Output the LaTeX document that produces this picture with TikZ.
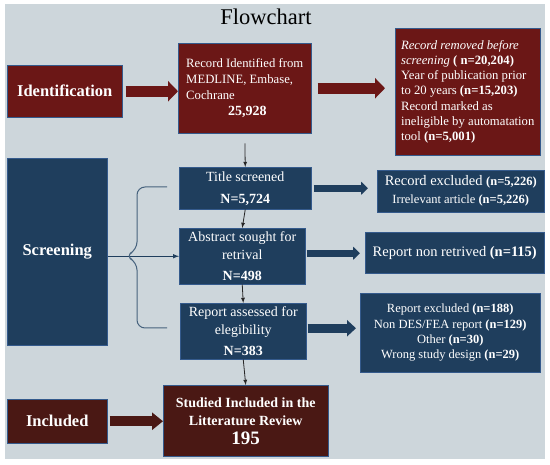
\documentclass[tikz,border=0pt]{standalone}
\usepackage{fontspec}
\setmainfont{Liberation Serif}
\usetikzlibrary{arrows,arrows.meta}

\definecolor{panel}{RGB}{205,214,219}
\definecolor{maroon}{RGB}{107,23,22}
\definecolor{darkbrown}{RGB}{74,24,20}
\definecolor{navy}{RGB}{31,62,93}
\definecolor{edge}{RGB}{52,90,140}
\definecolor{bracecol}{RGB}{70,98,125}

\newcommand{\fs}[2]{\fontsize{#1}{#2}\selectfont}

\begin{document}
\begin{tikzpicture}[>=latex, x=1pt, y=-1pt,
  box/.style={draw=edge, line width=0.5pt, anchor=north west, inner sep=0pt, text=white, align=center},
  wh/.style 2 args={minimum width=#1, minimum height=#2},
  redbox/.style={box, fill=maroon},
  darkbox/.style={box, fill=darkbrown},
  bluebox/.style={box, fill=navy},
  redarrow/.style={maroon, line width=11pt, -{Triangle[length=10pt,width=20pt]}},
  brownarrow/.style={darkbrown, line width=10pt, -{Triangle[length=11pt,width=17pt]}},
  bluearrow/.style={navy, line width=7pt, -{Triangle[length=7pt,width=13pt]}},
  thinarrow/.style={->, line width=0.8pt, black!85}]

\useasboundingbox (0,0) rectangle (550,465);
\fill[panel] (5,4) rectangle (545,459);

\node[font=\fs{22.5}{26}] (title) at (266,17) {Flowchart};

% left column
\node[redbox, wh={115pt}{52pt}, font=\fs{16.5}{19}\bfseries] (ident) at (7,65) {Identification};
\node[bluebox, wh={100pt}{187pt}, font=\fs{16.5}{19}\bfseries] (scr) at (7,158) {Screening};
\node[darkbox, wh={100pt}{44pt}, font=\fs{16.5}{19}\bfseries] (inc) at (7,399) {Included};

% middle column
\node[redbox, wh={133pt}{90pt}, align=left, font=\fs{12.7}{16}] (rec) at (178,43)
  {Record Identified from\\MEDLINE, Embase,\\Cochrane\\\hspace*{42pt}{\fs{14}{16}\bfseries 25,928}};
\node[bluebox, wh={132pt}{42pt}, font=\fs{14}{22}] (tscr) at (179,167)
  {Title screened\\\textbf{N=5,724}};
\node[bluebox, wh={126pt}{56pt}, font=\fs{14}{18}] (abs) at (179,228)
  {Abstract sought for\\retrival\\[3pt]\textbf{N=498}};
\node[bluebox, wh={126pt}{56pt}, font=\fs{14}{18}] (rep) at (180,303)
  {Report assessed for\\elegibility\\[3pt]\textbf{N=383}};
\node[darkbox, wh={165pt}{71pt}, font=\fs{14}{18}\bfseries] (stud) at (163,385)
  {Studied Included in the\\Litterature Review\\[1pt]{\fs{19}{20}195}};

% right column
\node[redbox, wh={145pt}{127pt}, align=left, font=\fs{12.7}{15.2}] (rem) at (395,28)
  {\textit{Record removed before}\\\textit{screening} \textbf{( n=20,204)}\\Year of publication prior\\to 20 years \textbf{(n=15,203)}\\Record marked as\\ineligible by automatation\\tool \textbf{(n=5,001)}};
\node[bluebox, wh={167pt}{42pt}, font=\fs{14.5}{18}] (recx) at (377,170)
  {Record excluded {\fs{12.5}{18}\textbf{(n=5,226)}}\\{\fs{12.5}{15}Irrelevant article \textbf{(n=5,226)}}};
\node[bluebox, wh={179pt}{41pt}, font=\fs{14.5}{18}] (nret) at (365,232)
  {Report non retrived \textbf{(n=115)}};
\node[bluebox, wh={180pt}{79pt}, font=\fs{12.5}{15.3}] (repx) at (360,293)
  {Report excluded \textbf{(n=188)}\\Non DES/FEA report \textbf{(n=129)}\\Other \textbf{(n=30)}\\Wrong study design \textbf{(n=29)}};

% fat arrows
\draw[redarrow, shorten <=3pt] (ident.east) -- (ident.east -| rec.west);
\draw[redarrow, shorten <=6pt, shorten >=10pt] (rec.east) -- (rec.east -| rem.west);
\draw[brownarrow, shorten <=2pt] (inc.east) -- (inc.east -| stud.west);
\draw[bluearrow, shorten <=2pt, shorten >=9pt] (tscr.east) -- (tscr.east -| recx.west);
\draw[bluearrow, shorten <=1pt, shorten >=5pt] (abs.west -| abs.east) ++(0,-3) coordinate (a1) (a1) -- (a1 -| nret.west);
\draw[bluearrow, line width=9pt, -{Triangle[length=9pt,width=16pt]}, shorten <=1pt, shorten >=4pt] (rep.east) ++(0,-3) coordinate (a2) (a2) -- (a2 -| repx.west);

% thin arrows
\draw[thinarrow, shorten <=10pt] (rec.south) -- (tscr.north);
\draw[thinarrow] (tscr.south) -- (abs.north);
\draw[thinarrow] (abs.south) -- (rep.north);
\draw[thinarrow] (rep.south) -- (stud.north);

% brace
\draw[->, navy, line width=1pt] (abs.west -| scr.east) -- (abs.west);
\draw[bracecol, line width=1pt, rounded corners=8pt]
  (167,187) -- (137,187) -- (137,250) -- (125,256) -- (137,262) -- (137,328) -- (167,328);

\end{tikzpicture}
\end{document}
